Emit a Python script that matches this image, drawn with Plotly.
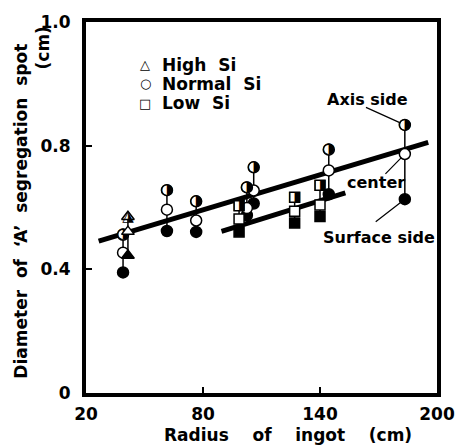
import plotly.graph_objects as go

# ---------------- data ----------------
# Normal Si (circles): axis side / center / surface side
normal_x = [39, 61.5, 76.5, 102.5, 106, 144.5, 183.5]
normal_axis = [0.512, 0.656, 0.620, 0.665, 0.730, 0.787, 0.867]
normal_center = [0.454, 0.593, 0.558, 0.598, 0.655, 0.720, 0.773]
normal_surface = [0.390, 0.524, 0.521, 0.575, 0.613, 0.643, 0.627]

# High Si (triangles)
high_x = [41.5]
high_axis = [0.570]
high_center = [0.522]
high_surface = [0.445]

# Low Si (squares)
low_x = [98.5, 127, 140]
low_axis = [0.606, 0.633, 0.672]
low_center = [0.563, 0.588, 0.608]
low_surface = [0.521, 0.550, 0.571]

# regression lines
fit1_x = [26.5, 195.5]
fit1_y = [0.491, 0.811]
fit2_x = [89.5, 153]
fit2_y = [0.523, 0.647]

x_ticks = [20, 80, 140, 200]
y_tickvals = [0, 0.4, 0.8, 1.2]
y_ticktext = ["0", "0.4", "0.8", "1.0"]

legend_symbols = ["△", "○", "□"]
legend_names = ["High", "Normal", "Low"]

FONT = "DejaVu Sans"
NB = "\u00a0"
fig = go.Figure()

# fitted lines
for fx, fy in [(fit1_x, fit1_y), (fit2_x, fit2_y)]:
    fig.add_trace(go.Scatter(x=fx, y=fy, mode="lines",
                             line=dict(color="black", width=5), showlegend=False))

# vertical connectors
for xs, lo, hi in [(normal_x, normal_surface, normal_axis),
                   (high_x, high_surface, high_axis),
                   (low_x, low_surface, low_axis)]:
    for xv, a, b in zip(xs, lo, hi):
        fig.add_trace(go.Scatter(x=[xv, xv], y=[a, b], mode="lines",
                                 line=dict(color="black", width=1.5), showlegend=False))

def add_group(xs, axis, center, surface, sym, glyph, size):
    fig.add_trace(go.Scatter(x=xs, y=surface, mode="markers", showlegend=False,
                             marker=dict(symbol=sym, size=size, color="black",
                                         line=dict(color="black", width=1.5))))
    fig.add_trace(go.Scatter(x=xs, y=center, mode="markers", showlegend=False,
                             marker=dict(symbol=sym, size=size, color="white",
                                         line=dict(color="black", width=1.5))))
    fig.add_trace(go.Scatter(x=xs, y=axis, mode="markers", showlegend=False,
                             marker=dict(symbol=sym, size=size, color="white",
                                         line=dict(color="black", width=1.5))))
    fig.add_trace(go.Scatter(x=xs, y=axis, mode="text", showlegend=False,
                             text=[glyph] * len(xs), textposition="middle center",
                             textfont=dict(family=FONT, size=size + 4, color="black")))

add_group(normal_x, normal_axis, normal_center, normal_surface, "circle", "◑", 11)
add_group(high_x, high_axis, high_center, high_surface, "triangle-up", "◮", 11)
add_group(low_x, low_axis, low_center, low_surface, "square", "◨", 10)

ann_font = dict(family=FONT, size=16, color="black", weight="bold")
leg_font = dict(family=FONT, size=17, color="black", weight="bold")
legend_y = [1.061, 1.000, 0.937]
for sym, name, ly in zip(legend_symbols, legend_names, legend_y):
    fig.add_annotation(xref="x", yref="y", x=50.3, y=ly, text=sym, showarrow=False,
                       xanchor="center", yanchor="middle",
                       font=dict(family=FONT, size=13, color="black"))
    fig.add_annotation(xref="x", yref="y", x=58.0, y=ly, text=name + " " + NB + "Si",
                       showarrow=False, xanchor="left", yanchor="middle", font=leg_font)

labels = [
    dict(x=164.6, y=0.949, text="Axis" + NB + "side"),
    dict(x=168.5, y=0.681, text="center"),
    dict(x=170.0, y=0.502, text="Surface" + NB + "side"),
]
for a in labels:
    fig.add_annotation(xref="x", yref="y", showarrow=False, font=ann_font,
                       xanchor="center", yanchor="middle", **a)

# leader lines
for tx, ty, px_, py_ in [(162.8, 0.926, normal_x[-1], normal_axis[-1]),
                         (172.8, 0.704, normal_x[-1], normal_center[-1]),
                         (167.8, 0.550, normal_x[-1], normal_surface[-1])]:
    fig.add_annotation(x=px_, y=py_, ax=tx, ay=ty, xref="x", yref="y",
                       axref="x", ayref="y", text="", showarrow=True,
                       arrowhead=0, arrowwidth=1.2, arrowcolor="black", standoff=5)

# axis titles
ygap = " " + NB
xgap = " " + NB * 3
title_font = dict(family=FONT, size=17, color="black", weight="bold")
fig.add_annotation(xref="paper", yref="paper", x=-0.184, y=0.49, textangle=-90,
                   xanchor="center", yanchor="middle", showarrow=False,
                   text="Diameter" + ygap + "of" + ygap + "‘A’" + ygap + "segregation" + ygap + "spot",
                   font=title_font)
fig.add_annotation(xref="paper", yref="paper", x=-0.124, y=0.93, textangle=-90,
                   xanchor="center", yanchor="middle", showarrow=False,
                   text="(cm)", font=title_font)
fig.add_annotation(xref="paper", yref="paper", x=0.575, y=-0.112,
                   xanchor="center", yanchor="middle", showarrow=False,
                   text="Radius" + xgap + "of" + xgap + "ingot" + xgap + "(cm)",
                   font=title_font)

axis_common = dict(showline=True, linecolor="black", linewidth=4, mirror=True,
                   showgrid=False, zeroline=False, ticks="inside", ticklen=6,
                   tickwidth=1.5, tickcolor="black",
                   tickfont=dict(family=FONT, size=17, color="black", weight="bold"))
fig.update_xaxes(range=[20, 200], tickvals=x_ticks, ticktext=[str(t) for t in x_ticks],
                 ticklabelstandoff=3, **axis_common)
fig.update_yaxes(range=[0, 1.2], tickvals=y_tickvals, ticktext=y_ticktext,
                 ticklabelstandoff=8, **axis_common)

fig.update_layout(width=467, height=447, margin=dict(l=86, r=19, t=17, b=54),
                  plot_bgcolor="white", paper_bgcolor="white", showlegend=False)

fig.write_html("out.html")
